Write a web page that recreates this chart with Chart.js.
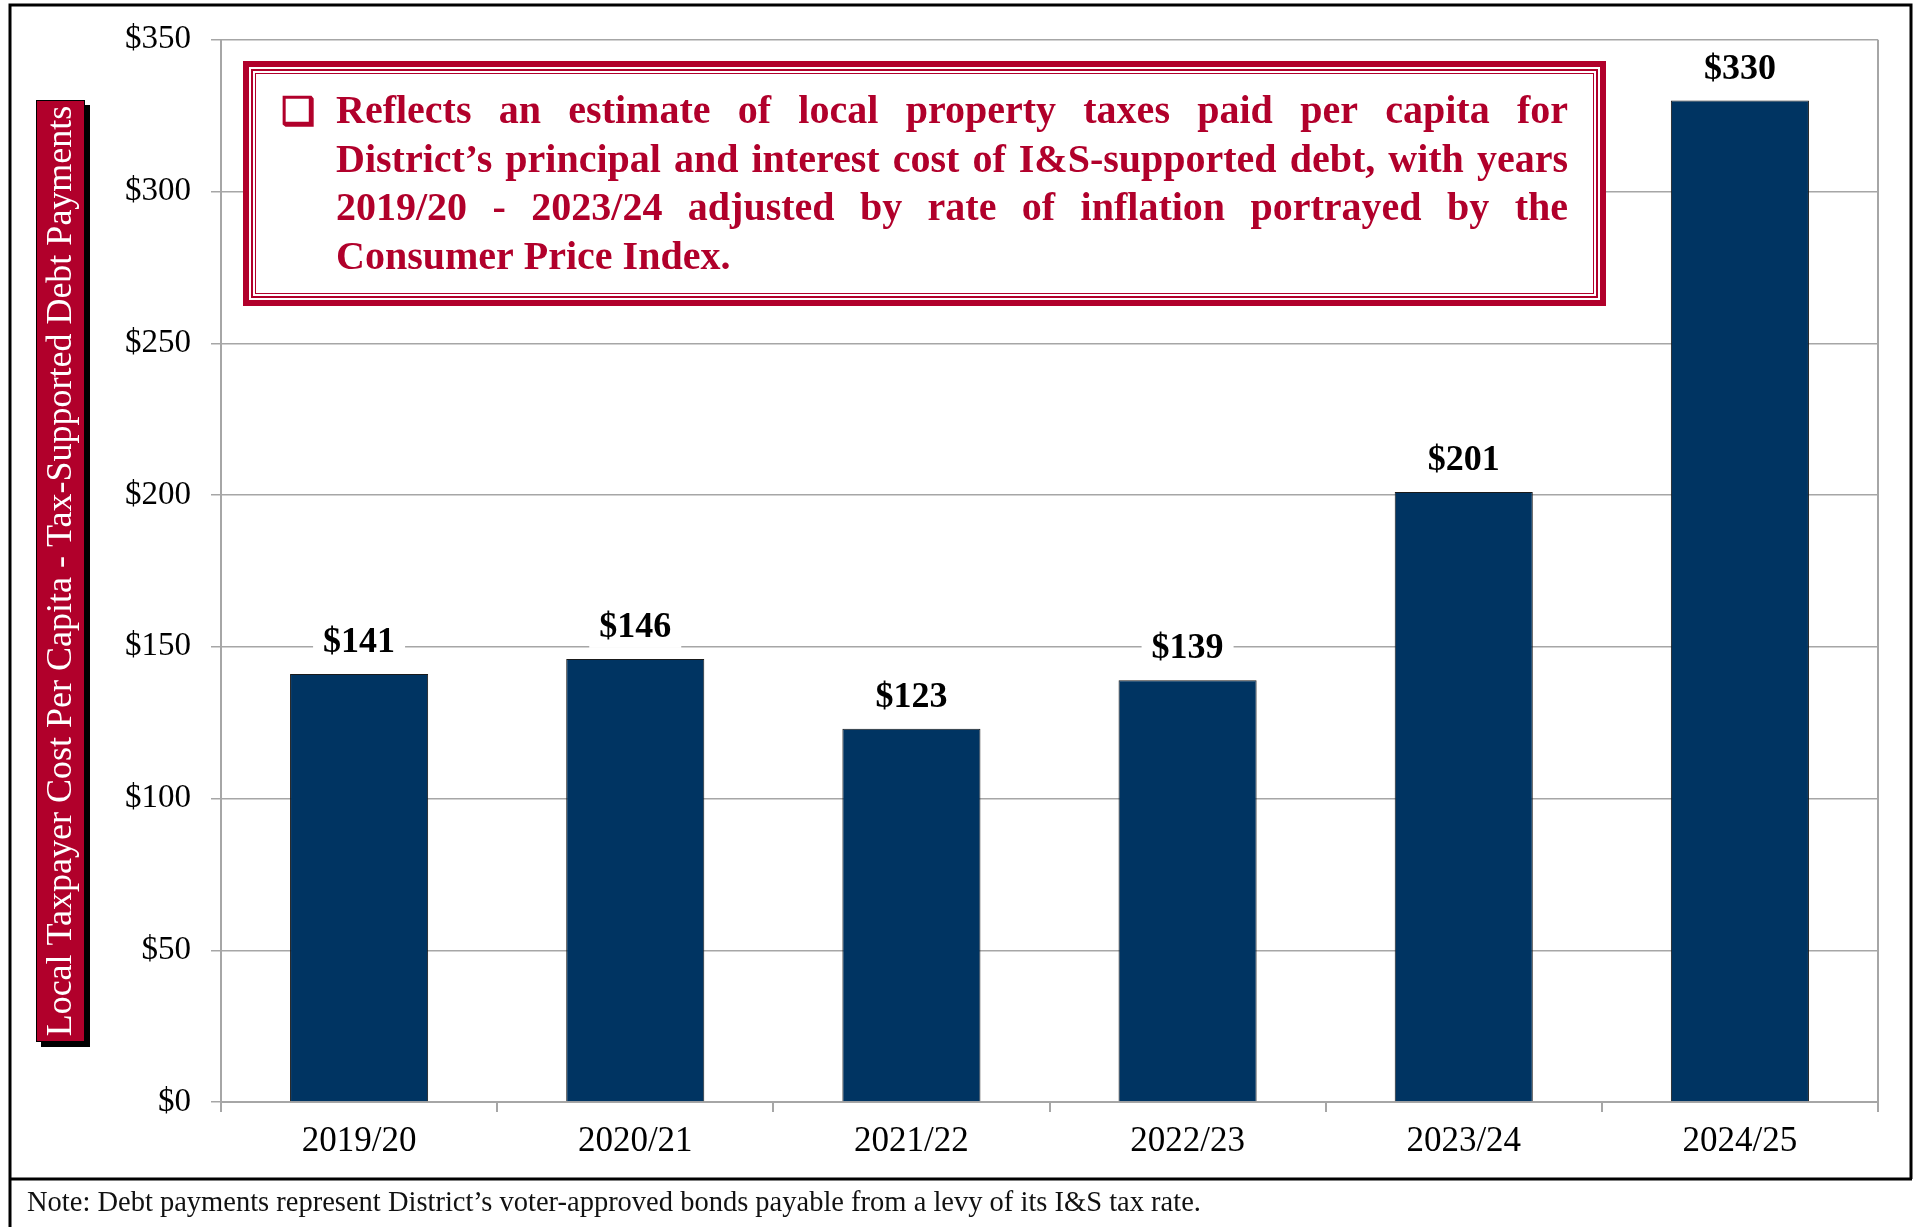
<!DOCTYPE html>
<html lang="en">
  <head>
    <meta charset="UTF-8" />
    <title>Local Taxpayer Cost Per Capita</title>
    <style>
      html, body { margin: 0; padding: 0; background: #fff; }
      .chartBox { position: relative; width: 1915px; height: 1227px; }
    </style>
  </head>
  <body>
    <div class="chartBox">
      <canvas id="myChart"></canvas>
    </div>
    <script src="https://cdn.jsdelivr.net/npm/chart.js"></script>
    <script>
      const years = ["2019/20", "2020/21", "2021/22", "2022/23", "2023/24", "2024/25"];
      const costPerCapita = [141, 146, 123, 139, 201, 330];
      const yMin = 0;
      const yMax = 350;
      const yStep = 50;
      const axisTitle = "Local Taxpayer Cost Per Capita - Tax-Supported Debt Payments";
      const boxLines = [
        "Reflects an estimate of local property taxes paid per capita for",
        "District\u2019s principal and interest cost of I&S-supported debt, with years",
        "2019/20 - 2023/24 adjusted by rate of inflation portrayed by the",
        "Consumer Price Index.",
      ];
      const footNote = "Note: Debt payments represent District\u2019s voter-approved bonds payable from a levy of its I&S tax rate.";

      const RED = "#b1002b";
      const NAVY = "#003462";
      const GRID = "#a6a6a6";
      const SERIF = "'Liberation Serif', 'DejaVu Serif', serif";

      // white page + black frame
      const framePlugin = {
        id: "frame",
        beforeDraw(chart) {
          const ctx = chart.ctx;
          ctx.save();
          ctx.fillStyle = "#fff";
          ctx.fillRect(0, 0, chart.width, chart.height);
          ctx.restore();
        },
        afterDraw(chart) {
          const ctx = chart.ctx;
          ctx.save();
          ctx.strokeStyle = "#000";
          ctx.lineWidth = 3;
          ctx.beginPath();
          ctx.moveTo(10, chart.height);
          ctx.lineTo(10, 5);
          ctx.lineTo(1911, 5);
          ctx.lineTo(1911, 1179);
          ctx.moveTo(9, 1179);
          ctx.lineTo(1912, 1179);
          ctx.stroke();
          // footnote
          ctx.fillStyle = "#111";
          ctx.font = `28.5px ${SERIF}`;
          ctx.textBaseline = "middle";
          ctx.fillText(footNote, 27, 1204);
          ctx.restore();
        },
      };

      // red rotated y axis title with black shadow
      const yTitlePlugin = {
        id: "yTitle",
        afterDraw(chart) {
          const ctx = chart.ctx;
          const x = 36, y = 100, w = 49, h = 942;
          ctx.save();
          ctx.fillStyle = "#000";
          ctx.fillRect(x + 5, y + 5, w, h);
          ctx.fillStyle = RED;
          ctx.fillRect(x, y, w, h);
          ctx.strokeStyle = "#000";
          ctx.lineWidth = 1;
          ctx.strokeRect(x + 0.5, y + 0.5, w - 1, h - 1);
          ctx.translate(x + w / 2 + 1, y + h / 2);
          ctx.rotate(-Math.PI / 2);
          ctx.fillStyle = "#fff";
          ctx.font = `36px ${SERIF}`;
          ctx.textAlign = "center";
          ctx.textBaseline = "middle";
          ctx.fillText(axisTitle, 0, 0);
          ctx.restore();
        },
      };

      // bold value labels on white background
      const valueLabels = {
        id: "valueLabels",
        afterDatasetsDraw(chart) {
          const ctx = chart.ctx;
          const meta = chart.getDatasetMeta(0);
          ctx.save();
          ctx.font = `bold 36px ${SERIF}`;
          ctx.textAlign = "center";
          ctx.textBaseline = "middle";
          meta.data.forEach((bar, i) => {
            const txt = "$" + costPerCapita[i];
            const w = ctx.measureText(txt).width + 20;
            const cy = bar.y - 31;
            ctx.fillStyle = "#fff";
            ctx.fillRect(bar.x - w / 2, cy - 20, w, 40);
            ctx.fillStyle = "#000";
            ctx.fillText(txt, bar.x, cy);
          });
          ctx.restore();
        },
      };

      function drawJustified(ctx, line, x0, x1, y, last) {
        if (last) {
          ctx.fillText(line, x0, y);
          return;
        }
        const words = line.split(" ");
        const total = words.reduce((s, wd) => s + ctx.measureText(wd).width, 0);
        const gap = (x1 - x0 - total) / (words.length - 1);
        let x = x0;
        words.forEach((wd) => {
          ctx.fillText(wd, x, y);
          x += ctx.measureText(wd).width + gap;
        });
      }

      // annotation box
      const noteBox = {
        id: "noteBox",
        afterDraw(chart) {
          const ctx = chart.ctx;
          const L = 243, T = 61, R = 1606, B = 306;
          ctx.save();
          ctx.fillStyle = "#fff";
          ctx.fillRect(L, T, R - L, B - T);
          ctx.strokeStyle = RED;
          ctx.lineWidth = 6;
          ctx.strokeRect(L + 3, T + 3, R - L - 6, B - T - 6);
          ctx.lineWidth = 2;
          ctx.strokeRect(L + 9, T + 9, R - L - 18, B - T - 18);
          ctx.lineWidth = 1;
          ctx.strokeRect(L + 12.5, T + 12.5, R - L - 25, B - T - 25);

          ctx.fillStyle = RED;
          ctx.strokeStyle = RED;
          ctx.textBaseline = "alphabetic";
          ctx.font = `38px 'DejaVu Sans', sans-serif`;
          ctx.lineWidth = 1.5;
          ctx.fillText("\u2751", 281, 124);
          ctx.strokeText("\u2751", 281, 124);
          ctx.font = `bold 40px ${SERIF}`;
          boxLines.forEach((ln, i) => {
            drawJustified(ctx, ln, 336, 1568, 123 + i * 48.5, i === boxLines.length - 1);
          });
          ctx.restore();
        },
      };

      const ctx = document.getElementById("myChart").getContext("2d");
      const myChart = new Chart(ctx, {
        type: "bar",
        data: {
          labels: years,
          datasets: [
            {
              label: "Cost per capita",
              data: costPerCapita,
              backgroundColor: NAVY,
              borderColor: "#1a1a1a",
              borderWidth: 1,
              barPercentage: 0.5,
              categoryPercentage: 1,
            },
          ],
        },
        options: {
          responsive: true,
          maintainAspectRatio: false,
          animation: false,
          layout: { padding: { left: 0, top: 38, right: 37, bottom: 48 } },
          plugins: {
            legend: { display: false },
            tooltip: { enabled: false },
          },
          scales: {
            x: {
              afterFit: (scale) => { scale.height = 77; },
              grid: {
                offset: true,
                drawOnChartArea: true,
                color: (c) => (c.type === "tick" ? "rgba(0,0,0,0)" : GRID),
                tickColor: GRID,
                tickLength: 10,
                lineWidth: 2,
              },
              border: { display: true, color: GRID, width: 2 },
              ticks: {
                color: "#000",
                padding: 9,
                font: { family: SERIF, size: 35 },
              },
            },
            y: {
              min: yMin,
              max: yMax,
              afterFit: (scale) => { scale.width = 221; },
              grid: {
                color: GRID,
                lineWidth: 1.5,
                tickLength: 10,
              },
              border: { display: true, color: GRID, width: 2 },
              ticks: {
                stepSize: yStep,
                color: "#000",
                padding: 20,
                font: { family: SERIF, size: 33 },
                callback: (v) => "$" + v,
              },
            },
          },
        },
        plugins: [framePlugin, valueLabels, noteBox, yTitlePlugin],
      });
    </script>
  </body>
</html>
